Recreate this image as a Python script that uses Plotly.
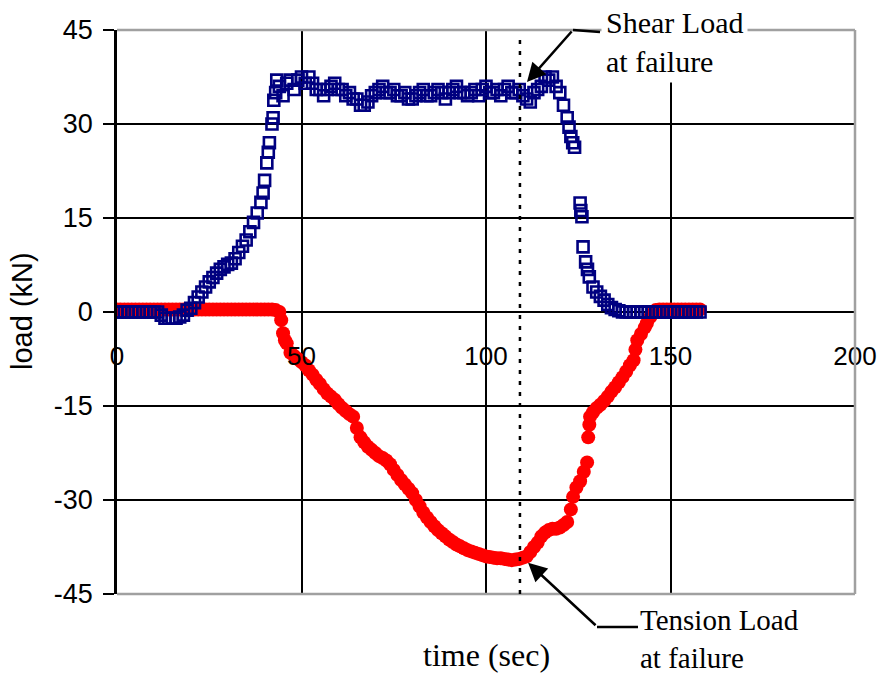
import plotly.graph_objects as go

# ---------------- data ----------------
shear_time = [0, 1, 2, 3, 4, 5, 6, 7, 8, 9, 10, 11, 12, 13, 14, 15, 16, 17, 18, 19,
              20, 21, 22, 23, 24, 25, 26, 27, 28, 29, 30, 31, 32, 33, 34, 35, 36, 37, 38, 39,
              39.6, 40, 40.6, 41, 41.3, 42, 42.3, 42.5, 43, 43.3, 44, 45, 46, 47, 48, 49,
              50, 51, 52, 53, 54, 55, 56, 57, 58, 59, 60, 61, 62, 63, 64, 65, 66, 67, 68, 69,
              70, 71, 72, 73, 74, 75, 76, 77, 78, 79, 80, 81, 82, 83, 84, 85, 86, 87, 88, 89,
              90, 91, 92, 93, 94, 95, 96, 97, 98, 99, 100, 101, 102, 103, 104, 105, 106, 107, 108, 109,
              110, 111, 112, 113, 114, 115, 116, 117, 118, 119, 120, 121, 122, 122.5, 123, 123.5, 124,
              125.5, 125.7, 126, 126.3, 127, 127.5, 128, 129, 130, 131, 132, 133, 134, 135, 136, 137,
              138, 139, 140, 141, 142, 143, 144, 145, 146, 147, 148, 149, 150, 151, 152, 153, 154, 155,
              156, 157, 158]
shear_load = [0, 0, 0, 0, 0, 0, 0, 0, 0, 0, 0, 0, -0.5, -1, -1, -1, -1, -0.8, -0.5, 0.3,
              0.6, 1.5, 2.4, 3.2, 4, 4.8, 5.5, 6.2, 6.8, 7.2, 7.6, 7.8, 8.5, 9.5, 10.5, 11.5, 12.8, 14.3, 15.8, 17.5,
              19, 21, 23.8, 25.5, 27, 30, 31, 33.8, 35, 37, 36, 34.5, 36.5, 37, 35.5, 37,
              37.5, 36.5, 37.5, 36.5, 35.5, 35.5, 34.5, 35.5, 36, 36.5, 35.5, 35.5, 34.5, 35, 34, 34, 33, 33, 33.5, 34.5,
              35, 35.5, 36, 35, 35, 35.5, 34.5, 34.5, 35, 34, 34, 34.5, 35, 35.5, 34.5, 34.5, 35, 35.5, 35, 34,
              35, 35.5, 36, 35, 35, 34.5, 35, 35.5, 34.5, 35.5, 36, 35, 35, 35.5, 34.5, 35.5, 36, 35, 35, 35.5,
              34.5, 34, 33.5, 35, 35.5, 36, 37.5, 37, 37.5, 36, 35, 33, 31, 29.5, 28, 27, 26.3,
              17.4, 16.2, 15.2, 10.4, 8, 6.8, 5.6, 4, 3.2, 2.5, 1.9, 1.2, 0.7, 0.4, 0.2, 0,
              0, 0, 0, 0, 0, 0, 0, 0, 0, 0, 0, 0, 0, 0, 0, 0, 0, 0,
              0, 0, 0]

tension_time = [0, 1, 2, 3, 4, 5, 6, 7, 8, 9, 10, 11, 12, 13, 14, 15, 16, 17, 18, 19,
                20, 21, 22, 23, 24, 25, 26, 27, 28, 29, 30, 31, 32, 33, 34, 35, 36, 37, 38, 39,
                40, 41, 42, 43, 44, 44.5, 45, 45.5, 46, 47, 48, 49,
                50, 51, 52, 53, 54, 55, 56, 57, 58, 59, 60, 61, 62, 63, 64, 65, 66, 67, 68, 69,
                70, 71, 72, 73, 74, 75, 76, 77, 78, 79, 80, 81, 82, 83, 84, 85, 86, 87, 88, 89,
                90, 91, 92, 93, 94, 95, 96, 97, 98, 99, 100, 101, 102, 103, 104, 105, 106, 107, 108, 109,
                110, 111, 112, 113, 114, 115, 116, 117, 118, 119, 120, 121, 122, 123, 123.6, 124.5,
                125.5, 126.5, 127.4, 127.7, 128, 128.2, 129, 130, 131, 132, 133, 134, 135, 136, 137,
                138, 139, 140, 140.5, 141, 142, 143, 143.6, 144.5, 145.3, 146, 147, 148, 149, 150,
                151, 152, 153, 154, 155, 156, 157, 158]
tension_load = [0.4, 0.4, 0.4, 0.4, 0.4, 0.4, 0.4, 0.4, 0.4, 0.4, 0.4, 0.4, 0.4, 0.4, 0.4, 0.4, 0.4, 0.4, 0.4, 0.4,
                0.4, 0.4, 0.4, 0.4, 0.4, 0.4, 0.4, 0.4, 0.4, 0.4, 0.4, 0.4, 0.4, 0.4, 0.4, 0.4, 0.4, 0.4, 0.4, 0.4,
                0.4, 0.4, 0.4, 0.3, 0, -1.3, -3.4, -4.5, -5, -6.5, -7, -7.5,
                -8, -8.5, -9.3, -10, -10.8, -11.5, -12.3, -13, -13.5, -14, -14.7, -15.3, -15.8, -16.3, -16.7, -18.5, -20, -20.8, -21.5, -22,
                -22.5, -23, -23.3, -23.7, -24.3, -25.2, -26, -26.8, -27.5, -28.2, -28.9, -30, -31, -32, -32.8, -33.5, -34.2, -34.8, -35.3, -35.8,
                -36.3, -36.7, -37.1, -37.4, -37.7, -38, -38.2, -38.4, -38.6, -38.8, -39, -39.1, -39.2, -39.3, -39.3, -39.4, -39.5, -39.6, -39.5, -39.4,
                -39.2, -39, -38.3, -37.5, -36.8, -35.8, -35.2, -34.8, -34.6, -34.6, -34.4, -34, -33.5, -31.5, -29.5, -28,
                -27, -25.5, -24, -20, -18, -16.7, -16, -15.3, -14.8, -14.2, -13.5, -12.7, -12, -11.2, -10.4,
                -9.5, -8.5, -7.7, -6, -4.5, -3.5, -2.5, -1.8, -0.8, -0.2, 0.3, 0.4, 0.4, 0.4, 0.4,
                0.4, 0.4, 0.4, 0.4, 0.4, 0.4, 0.4, 0.4]

x_ticks = [0, 50, 100, 150, 200]
x_tick_labels = ["0", "50", "100", "150", "200"]
y_ticks = [-45, -30, -15, 0, 15, 30, 45]
y_tick_labels = ["-45", "-30", "-15", "0", "15", "30", "45"]

failure_time = 109.2
shear_failure = (111.1, 36.7)
tension_failure = (111.4, -40.0)

SANS = "Liberation Sans, Arial, sans-serif"
SERIF = "Liberation Serif, Times New Roman, serif"

fig = go.Figure()
fig.add_trace(go.Scatter(
    x=tension_time, y=tension_load, mode="markers",
    marker=dict(symbol="circle", size=14, color="#ff0000", line=dict(width=0)),
    name="Tension"))
fig.add_trace(go.Scatter(
    x=shear_time, y=shear_load, mode="markers",
    marker=dict(symbol="square-open", size=11, color="#000080", line=dict(width=2.6, color="#000080")),
    name="Shear"))

W, H = 881, 677
L, R, T, B = 117, 26, 30, 83

fig.update_layout(
    width=W, height=H,
    margin=dict(l=L, r=R, t=T, b=B, pad=0, autoexpand=False),
    paper_bgcolor="white", plot_bgcolor="white",
    showlegend=False,
    font=dict(family=SANS, size=26, color="black"),
    xaxis=dict(
        range=[0, 200], tickvals=x_ticks, ticktext=x_tick_labels,
        showgrid=True, gridcolor="black", gridwidth=2,
        zeroline=False, showline=False, ticks="",
        anchor="free", position=0.5, ticklabelstandoff=26, automargin=False,
        tickfont=dict(family=SANS, size=26, color="black"),
    ),
    yaxis=dict(
        range=[-45, 45], tickvals=y_ticks, ticktext=y_tick_labels,
        showgrid=True, gridcolor="black", gridwidth=2,
        zeroline=True, zerolinecolor="black", zerolinewidth=2,
        showline=True, linecolor="black", linewidth=2.5,
        ticks="outside", ticklen=11, tickwidth=2, tickcolor="black",
        ticklabelstandoff=5, automargin=False,
        tickfont=dict(family=SANS, size=27, color="black"),
    ),
)

# gray plot border (top, right, bottom)
for (x0, y0, x1, y1) in [(0, 1, 1, 1), (1, 0, 1, 1), (0, 0, 1, 0)]:
    fig.add_shape(type="line", xref="paper", yref="paper", x0=x0, y0=y0, x1=x1, y1=y1,
                  line=dict(color="#a0a0a0", width=2.5), layer="above")

# dotted failure line
fig.add_shape(type="line", xref="x", yref="y", x0=failure_time, x1=failure_time, y0=-45, y1=43.8,
              line=dict(color="black", width=2.5, dash="4px,7px"), layer="above")

pw, ph = W - L - R, H - T - B
def px(xp):
    return (xp - L) / pw
def py(yp):
    return (H - B - yp) / ph

# arrows
fig.add_annotation(x=shear_failure[0], y=shear_failure[1], xref="x", yref="y", text="",
                   showarrow=True, arrowhead=2, arrowsize=1.5, arrowwidth=2.5, arrowcolor="black",
                   ax=46, ay=-52)
fig.add_shape(type="line", xref="paper", yref="paper", x0=px(573), y0=py(30), x1=px(600), y1=py(32),
              line=dict(color="black", width=2.5), layer="above")
fig.add_annotation(x=tension_failure[0], y=tension_failure[1], xref="x", yref="y", text="",
                   showarrow=True, arrowhead=2, arrowsize=1.5, arrowwidth=2.5, arrowcolor="black",
                   ax=69, ay=64)
fig.add_shape(type="line", xref="paper", yref="paper", x0=px(597), y0=py(627), x1=px(638), y1=py(627),
              line=dict(color="black", width=2.5), layer="above")

# labels
fig.add_annotation(x=px(601), y=py(42), xref="paper", yref="paper", xanchor="left", yanchor="middle",
                   text="Shear Load<br>at failure", align="left", showarrow=False,
                   bgcolor="white", borderpad=4,
                   font=dict(family=SERIF, size=30, color="black"))
fig.add_annotation(x=px(638), y=py(639), xref="paper", yref="paper", xanchor="left", yanchor="middle",
                   text="Tension Load<br>at failure", align="left", showarrow=False,
                   font=dict(family=SERIF, size=29, color="black"))
fig.add_annotation(x=px(487), y=py(655), xref="paper", yref="paper", xanchor="center", yanchor="middle",
                   text="time (sec)", showarrow=False,
                   font=dict(family=SERIF, size=32, color="black"))
fig.add_annotation(x=px(22), y=py(311), xref="paper", yref="paper", xanchor="center", yanchor="middle",
                   text="load (kN)", textangle=-90, showarrow=False,
                   font=dict(family=SANS, size=29, color="black"))

fig.write_html("out.html")
